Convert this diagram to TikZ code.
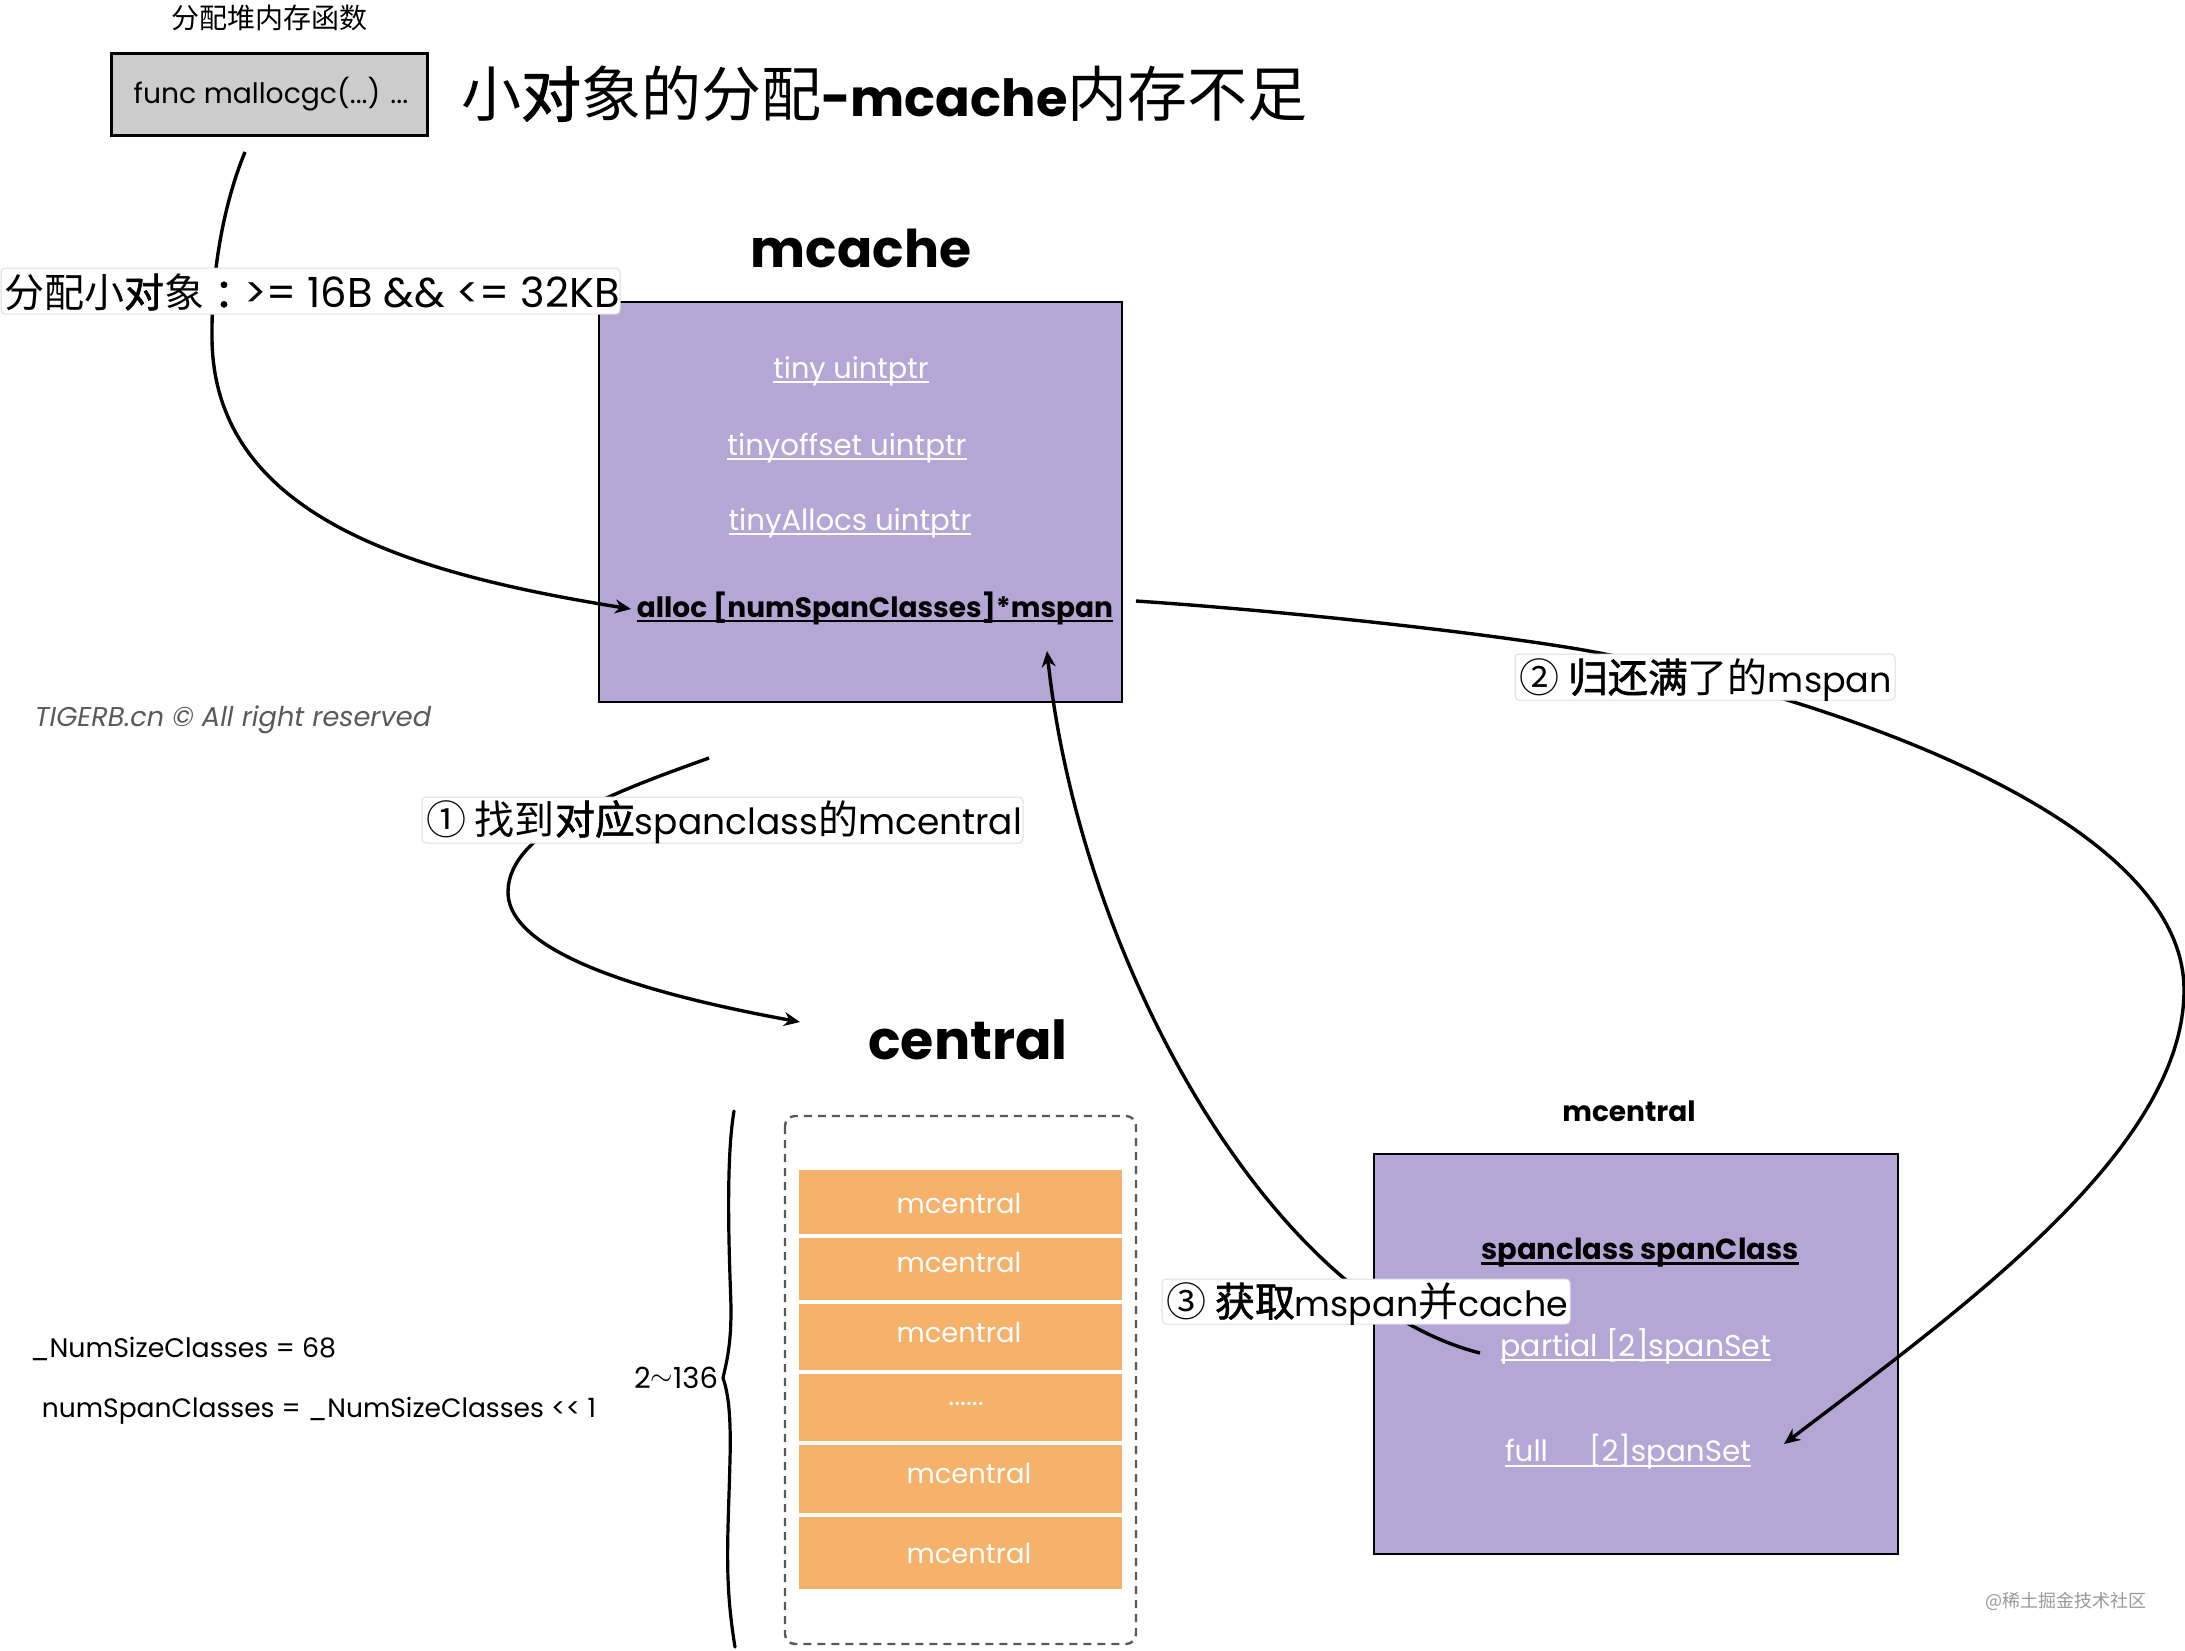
\documentclass[tikz,border=0pt]{standalone}
\usepackage{fontspec}
\usetikzlibrary{arrows.meta}
\setmainfont{Poppins}
\newfontfamily\cjk{Noto Sans CJK SC}
\newfontfamily\cjm[FakeBold=1.6]{Noto Sans CJK SC}
\newcommand{\zh}[1]{{\cjk #1}}
\newcommand{\zb}[1]{{\cjm #1}}
\newcommand{\lat}[2]{{\fontsize{#1}{#1}\selectfont #2}}
\newcommand{\ulx}[1]{\setbox0=\hbox{#1}\leavevmode\rlap{\rule[-2.4pt]{\wd0}{1.1pt}}\box0}
\definecolor{lav}{HTML}{B4A7D6}
\definecolor{orng}{HTML}{F6B26B}
\definecolor{lbl}{HTML}{DDDDDD}
\tikzset{
  panel/.style={draw=black,line width=1.4pt,fill=lav,inner sep=0pt,outer sep=0pt},
  slot/.style={fill=orng,inner sep=0pt,outer sep=0pt},
  txt/.style={inner sep=0pt,outer sep=0pt,anchor=center},
  whitetxt/.style={txt,text=white},
  tag/.style={draw=lbl,line width=0.5pt,fill=white,rounded corners=2pt,inner sep=0pt,outer sep=0pt},
  flow/.style={line width=1.7pt,draw=black,-{Stealth[length=8pt,width=7pt]}},
  fs/.style={font=\fontsize{#1}{#1}\selectfont}
}
\begin{document}
\begin{tikzpicture}[x=0.5pt,y=-0.5pt]
\useasboundingbox (0,0) rectangle (2185,1650);
% boxes
\path[draw=black,line width=1.5pt,fill=black!20] (111,53) rectangle (427,135);
\node[txt,fs=14.1] (func) at (271,94) {func mallocgc(...) ...};
\node[txt,fs=14] (cap) at (269,18) {\zh{分配堆内存函数}};
\node[txt,fs=30,anchor=west] (title) at (461,94) {\zh{小}\zb{对}\zh{象的分配}\lat{25.6}{\textbf{-mcache}}\zh{内存不足}};
\node[txt,font=\bfseries\fontsize{26}{26}\selectfont] (mcachet) at (861,248) {mcache};
\path[panel] (599,302) rectangle (1122,702);
\node[whitetxt,fs=14.4] (a1) at (851,371) {\ulx{tiny uintptr}};
\node[whitetxt,fs=14.6] (a2) at (847,448) {\ulx{tinyoffset uintptr}};
\node[whitetxt,fs=14.6] (a3) at (850,523) {\ulx{tinyAllocs uintptr}};
\node[txt,font=\bfseries\fontsize{14}{14}\selectfont] (alloc) at (875,608) {\ulx{alloc [numSpanClasses]*mspan}};
\node[txt,font=\itshape\fontsize{13.6}{13.6}\selectfont,text=black!65] (cr) at (233,720) {TIGERB.cn \textcopyright{} All right reserved};
% central
\node[txt,font=\bfseries\fontsize{26.9}{26.9}\selectfont] (centralt) at (968,1040) {central};
\path[draw=black!65,line width=1.2pt,dash pattern=on 4pt off 3pt,rounded corners=5pt] (785,1116) rectangle (1136,1644);
\foreach \n/\a/\b in {s1/1170/1234,s2/1238/1300,s3/1304/1370,s4/1374/1441,s5/1445/1513,s6/1517/1589}{
  \path[slot] (799,\a) rectangle (1122,\b);
}
\node[whitetxt,fs=13.7] (m1) at (959,1203) {mcentral};
\node[whitetxt,fs=13.7] (m2) at (959,1262) {mcentral};
\node[whitetxt,fs=13.7] (m3) at (959,1332) {mcentral};
\node[whitetxt,fs=14] (m4) at (966,1404) {......};
\node[whitetxt,fs=13.7] (m5) at (969,1473) {mcentral};
\node[whitetxt,fs=13.7] (m6) at (969,1553) {mcentral};
\draw[line width=1.6pt,line cap=round] (734,1111) .. controls (724,1170) and (731,1290) .. (731,1310) .. controls (731,1345) and (727,1360) .. (723,1378) .. controls (729,1395) and (731,1420) .. (730,1460) .. controls (728,1540) and (724,1580) .. (735,1647);
\node[txt,fs=14.5] (range) at (676,1378) {2\raisebox{0.1em}{$\sim$}136};
\node[txt,fs=13.4] (n1) at (183,1349) {\_NumSizeClasses = 68};
\node[txt,fs=13.27] (n2) at (319,1411) {numSpanClasses = \_NumSizeClasses <{}< 1};
% mcentral
\node[txt,font=\bfseries\fontsize{14}{14}\selectfont] (mct) at (1629,1111) {mcentral};
\path[panel] (1374,1154) rectangle (1898,1554);
\node[txt,font=\bfseries\fontsize{14.5}{14.5}\selectfont] (sc) at (1640,1253) {\ulx{spanclass spanClass}};
\node[whitetxt,fs=15] (part) at (1636,1346) {\ulx{partial [2]spanSet}};
\node[whitetxt,fs=14.7] (full) at (1628,1452) {\ulx{full\hspace{1.4em}[2]spanSet}};
\node[txt,fs=9,text=black!40] (wm) at (2066,1601) {\zh{@稀土掘金技术社区}};
% connector ends
\coordinate (c1s) at (245,152);
\coordinate (c1m) at (212,340);
\coordinate (c1e) at (631,609);
\coordinate (c2s) at (709,758);
\coordinate (c2m) at (508,892);
\coordinate (c2e) at (800,1022);
\coordinate (c3s) at (1480,1353);
\coordinate (c3e) at (1047,651);
\coordinate (c4s) at (1136,601);
\coordinate (c4a) at (1589,651);
\coordinate (c4b) at (2184,990);
\coordinate (c4e) at (1784,1444);
\draw[flow] (c1s) .. controls (225,200) and (211,270) .. (c1m) .. controls (215,520) and (420,575) .. (c1e);
\draw[flow] (c2s) .. controls (620,790) and (508,830) .. (c2m) .. controls (508,960) and (680,1000) .. (c2e);
\draw[flow] (c3s) .. controls (1270,1300) and (1080,960) .. (c3e);
\draw[flow] (c4s) .. controls (1300,612) and (1500,635) .. (c4a) .. controls (1800,690) and (2184,810) .. (c4b) .. controls (2184,1150) and (1960,1310) .. (c4e);
% labels
\path[tag] (1,268) rectangle (620,314);
\node[txt,fs=20.8,anchor=west] (l0) at (4,292) {\lat{20}{\zh{分配小}\zb{对}\zh{象}\hspace{5pt}\zb{：}\hspace{-5pt}}>= 16B \&\& <= 32KB};
\path[tag] (422,797) rectangle (1023,843);
\node[txt,fs=18,anchor=west] (l1) at (426,822) {\lat{20}{\zh{①\ 找到}\zb{对应}}spanclass\lat{20}{\zh{的}}mcentral};
\path[tag] (1515,654) rectangle (1895,700);
\node[txt,fs=17.5,anchor=west] (l2) at (1519,680) {\lat{20}{\zh{②\ }\zb{归还满}\zh{了的}}mspan};
\path[tag] (1162,1279) rectangle (1570,1324);
\node[txt,fs=17.4,anchor=west] (l3) at (1166,1304) {\lat{20}{\zh{③\ }\zb{获取}}mspan\lat{20}{\zh{并}}cache};
\end{tikzpicture}
\end{document}
